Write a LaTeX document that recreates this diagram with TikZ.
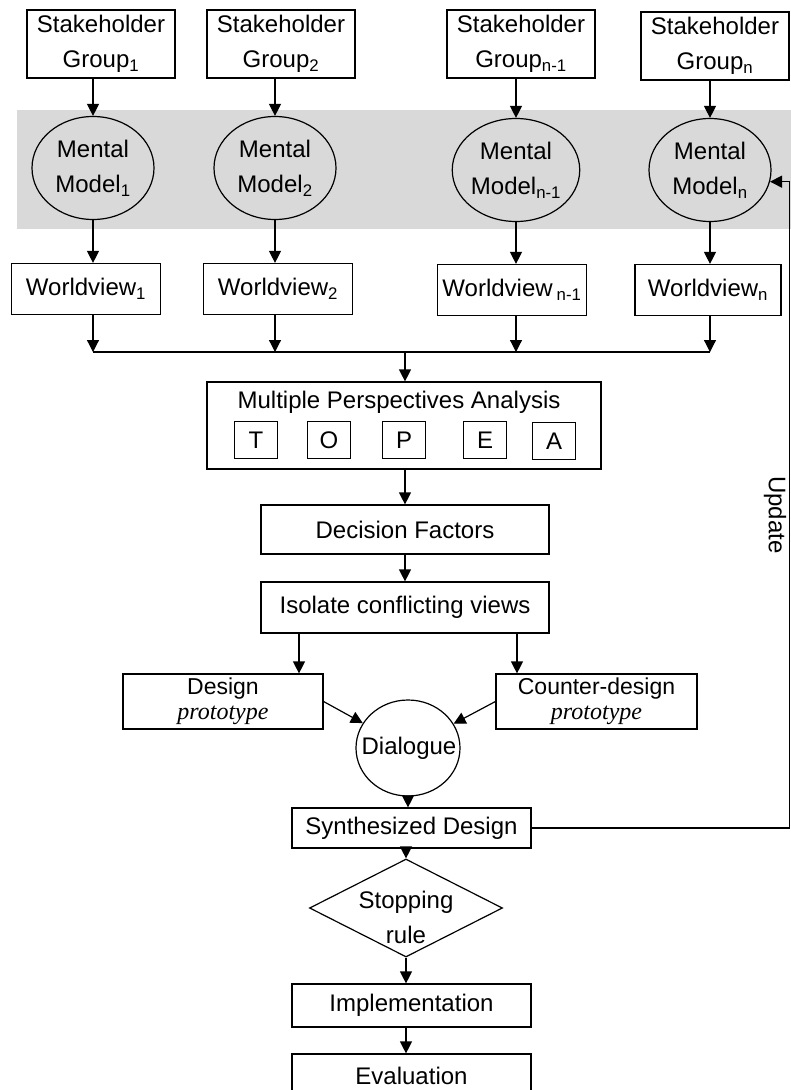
\documentclass[tikz,border=0pt]{standalone}
\usepackage{fontspec}
\setmainfont{Liberation Sans}
\newfontfamily\serifit{Liberation Serif}
\usetikzlibrary{arrows.meta,shapes.geometric,calc}
\definecolor{band}{RGB}{217,217,217}
\begin{document}
\begin{tikzpicture}[x=1pt,y=-1pt,
  every node/.style={inner sep=0pt, font=\fontsize{24}{35}\selectfont, align=center},
  box/.style={draw, line width=1.2pt, rectangle, fill=white},
  oval/.style={draw, line width=1.2pt, ellipse, fill=band, minimum width=122pt, minimum height=103pt},
  wbox/.style={box, minimum width=149pt, minimum height=51pt},
  sbox/.style={box, minimum width=148pt, minimum height=68pt},
  lbox/.style={box, minimum width=43pt, minimum height=37pt},
  arr/.style={line width=1.2pt, -{Triangle[width=12pt,length=12pt]}},
  ln/.style={line width=1.2pt},
  dbox/.style={box, minimum height=55pt, font=\fontsize{23}{25}\selectfont}]
\useasboundingbox (0,0) rectangle (791,1090);
\fill[band] (17,110) rectangle (791,229);

% stakeholder groups
\node[sbox] (sg1) at (101,44) {Stakeholder\\Group\textsubscript{1}};
\node[sbox] (sg2) at (281,44) {Stakeholder\\Group\textsubscript{2}};
\node[sbox] (sg3) at (521,44) {Stakeholder\\Group\textsubscript{n-1}};
\node[sbox] (sg4) at (715,46) {Stakeholder\\Group\textsubscript{n}};

% mental models
\node[oval] (mm1) at (93,168) {Mental\\Model\textsubscript{1}};
\node[oval] (mm2) at (275,168) {Mental\\Model\textsubscript{2}};
\node[oval] (mm3) at (516,170) {Mental\\Model\textsubscript{n-1}};
\node[oval] (mm4) at (710,170) {Mental\\Model\textsubscript{n}};

% worldviews
\node[wbox] (wv1) at (86,289) {Worldview\textsubscript{1}};
\node[wbox] (wv2) at (278,289) {Worldview\textsubscript{2}};
\node[wbox] (wv3) at (512,290) {Worldview\,\textsubscript{n-1}};
\node[wbox, minimum width=146pt] (wv4) at (708,290) {Worldview\textsubscript{n}};

\foreach \i in {1,2,3,4}{
  \draw[arr] (sg\i.south -| mm\i.center) -- (mm\i.north);
  \draw[arr] (mm\i.south) -- (mm\i.south |- wv\i.north);
}
\coordinate (busL) at (93,352);
\coordinate (busR) at (710,352);
\coordinate (busM) at (405,352);
\draw[ln] (busL) -- (busR);
\foreach \i in {1,2,3,4}{
  \draw[arr] (wv\i.south -| mm\i.center) -- (mm\i.center |- busL);
}

% multiple perspectives analysis
\node[box, minimum width=394pt, minimum height=87pt] (mpa) at (404,425.5) {};
\node[anchor=base] (mpat) at (399,408) {Multiple Perspectives Analysis};
\node[lbox] (lt) at (256,440) {T};
\node[lbox] (lo) at (329,440) {O};
\node[lbox] (lp) at (404,440) {P};
\node[lbox] (le) at (485,440) {E};
\node[lbox] (la) at (554,441) {A};
\draw[arr] (busM) -- (busM |- mpa.north);

\node[box, minimum width=288pt, minimum height=49pt] (df) at (405,529.5) {Decision Factors};
\node[box, minimum width=288pt, minimum height=51pt] (iso) at (405,607.5) {Isolate conflicting views};
\draw[arr] (mpa.south -| df.north) -- (df.north);
\draw[arr] (df.south) -- (iso.north);

% designs
\node[dbox, minimum width=200pt] (des) at (223,701.5) {Design\\{\serifit\itshape\fontsize{24}{25}\selectfont prototype}};
\node[dbox, minimum width=201pt] (cd) at (596.5,701.5) {Counter-design\\{\serifit\itshape\fontsize{24}{25}\selectfont prototype}};
\coordinate (isoL) at (299,633);
\coordinate (isoR) at (517,633);
\draw[arr] (isoL) -- (isoL |- des.north);
\draw[arr] (isoR) -- (isoR |- cd.north);

% dialogue
\node[draw, line width=1.2pt, ellipse, fill=white, minimum width=104pt, minimum height=96pt] (dlg) at (408,748) {};
\node (dlgt) at (409,748) {Dialogue};
\draw[arr] (des.east) -- (dlg);
\draw[arr] (cd.west) -- (dlg);

% synthesized design
\node[box, minimum width=239pt, minimum height=40pt] (sd) at (411.5,828) {Synthesized Design};
\draw[arr] (dlg.south) -- (dlg.south |- sd.north);

% stopping rule
\node[draw, line width=1.2pt, diamond, aspect=1.97, fill=white, minimum width=193pt, minimum height=98pt] (dia) at (406,908) {};
\node (diat) at (406,917) {Stopping\\rule};
\draw[arr] (sd.south -| dia.north) -- (dia.north);

\node[box, minimum width=239pt, minimum height=43pt] (imp) at (411.5,1005.5) {Implementation};
\node[box, minimum width=239pt, minimum height=44pt] (ev) at (411.5,1076) {Evaluation};
\draw[arr] (dia.south) -- (dia.south |- imp.north);
\draw[arr] (imp.south -| dia.south) -- (dia.south |- ev.north);

% update loop
\draw[arr] (sd.east) -- ++(258,0) |- (mm4.-11);
\node[rotate=-90] (upd) at (775,515) {Update};
\end{tikzpicture}
\end{document}
